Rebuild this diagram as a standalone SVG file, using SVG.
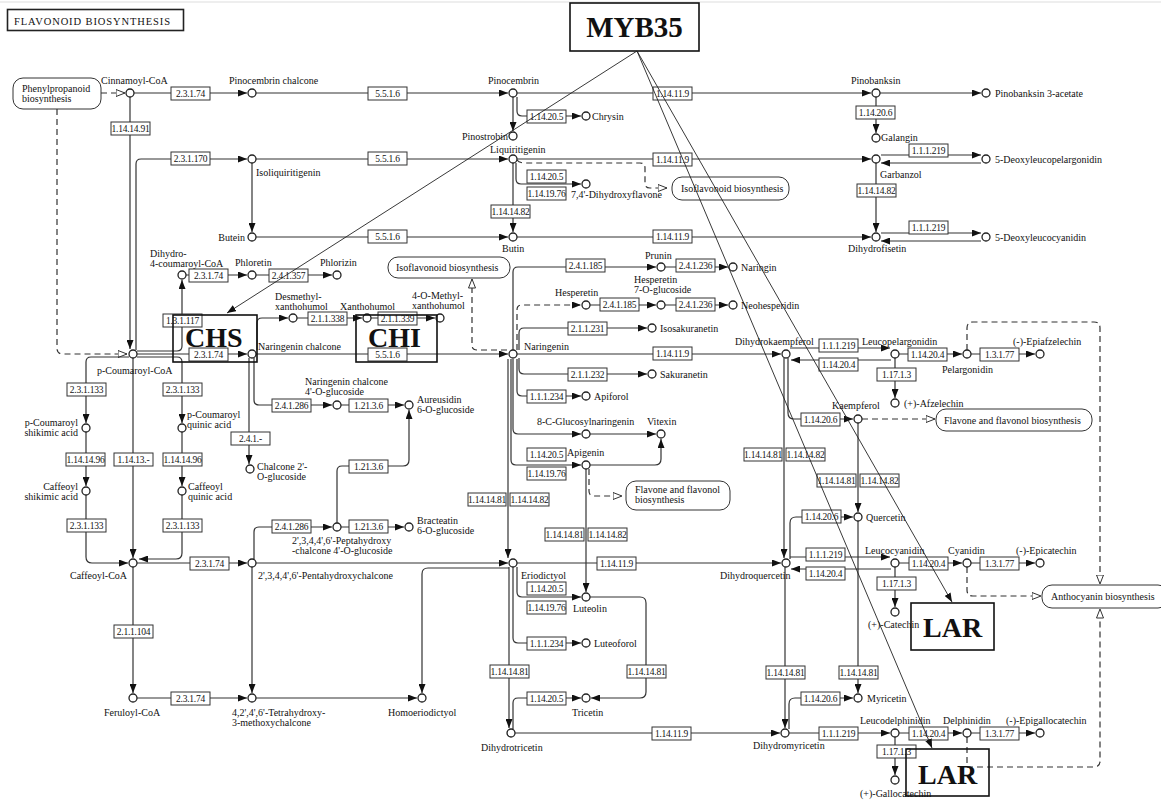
<svg xmlns="http://www.w3.org/2000/svg" width="1161" height="800" viewBox="0 0 1161 800">
<style>
text{font-family:"Liberation Serif","Times New Roman",serif;fill:#111}
.cpd circle{fill:#fff;stroke:#222;stroke-width:1.3}
.cpd text{font-size:10px}
.enz rect{fill:#fff;stroke:#333;stroke-width:1}
.enz text{font-size:9.5px;text-anchor:middle;letter-spacing:-0.25px}
.map rect{fill:#fff;stroke:#333;stroke-width:1}
.map text{font-size:10px}
.gene rect{fill:none;stroke:#111;stroke-width:1.6}
.gene text{font-weight:bold;font-size:28px}
#connectors path{fill:none;stroke:#333;stroke-width:1.2}
#connectors path.d{stroke-dasharray:6,4}
#regulation path{fill:none;stroke:#222;stroke-width:0.9}
</style>
<defs>
<marker id="a" viewBox="0 0 9 7" refX="9" refY="3.5" markerWidth="9" markerHeight="7" markerUnits="userSpaceOnUse" orient="auto"><path d="M0,0 L9,3.5 L0,7 z" fill="#111"/></marker>
<marker id="o" viewBox="0 0 10 8" refX="9.5" refY="4" markerWidth="10" markerHeight="8" markerUnits="userSpaceOnUse" orient="auto"><path d="M0.5,0.5 L9.5,4 L0.5,7.5 z" fill="#fff" stroke="#333" stroke-width="1"/></marker>
</defs>
<rect width="1161" height="800" fill="#fff"/>
<line x1="0" y1="2" x2="1161" y2="2" stroke="#ddd" stroke-width="1"/>
<g id="title"><rect x="7.5" y="9.5" width="176" height="21" fill="#fff" stroke="#222" stroke-width="1.6"/><text x="14" y="25" font-size="10.5" letter-spacing="0.9">FLAVONOID BIOSYNTHESIS</text></g>

<g id="m-phenylpropanoid" class="map"><rect x="13" y="78" width="88" height="31" rx="10"/><text x="22" y="92">Phenylpropanoid<tspan x="22" dy="10">biosynthesis</tspan></text></g>
<g id="m-isoflavonoid-1" class="map"><rect x="672" y="177" width="117" height="23" rx="10"/><text x="681" y="192">Isoflavonoid biosynthesis</text></g>
<g id="m-isoflavonoid-2" class="map"><rect x="388" y="257" width="122" height="21" rx="10"/><text x="396" y="271">Isoflavonoid biosynthesis</text></g>
<g id="m-flavone-1" class="map"><rect x="626" y="481" width="104" height="29" rx="10"/><text x="635" y="493">Flavone and flavonol<tspan x="635" dy="10">biosynthesis</tspan></text></g>
<g id="m-flavone-2" class="map"><rect x="936" y="409" width="156" height="22" rx="10"/><text x="944" y="424">Flavone and flavonol biosynthesis</text></g>
<g id="m-anthocyanin" class="map"><rect x="1042" y="585" width="126" height="23" rx="10"/><text x="1051" y="600">Anthocyanin biosynthesis</text></g>

<g id="connectors">
<path class="d" d="M101,93 H125" marker-end="url(#o)"/>
<path class="d" d="M57,109 V348 Q57,354 63,354 H127" marker-end="url(#o)"/>
<path d="M134,93 H247" marker-end="url(#a)"/>
<path d="M256,93 H508" marker-end="url(#a)"/>
<path d="M517,93 H871" marker-end="url(#a)"/>
<path d="M880,93 H981" marker-end="url(#a)"/>
<path d="M513,97 V131" marker-end="url(#a)"/>
<path d="M517,97 V111 Q517,116 522,116 H581" marker-end="url(#a)"/>
<path d="M876,97 V133" marker-end="url(#a)"/>
<path d="M130,97 V349" marker-end="url(#a)"/>
<path d="M136,350 V164 Q136,159 141,159 H247" marker-end="url(#a)"/>
<path d="M256,159 H508" marker-end="url(#a)"/>
<path d="M517,159 H871" marker-end="url(#a)"/>
<path d="M881,155 H981" marker-end="url(#a)"/>
<path d="M981,163 H881" marker-end="url(#a)"/>
<path d="M876,163 V232" marker-end="url(#a)"/>
<path d="M516,163 V179 Q516,184 521,184 H581" marker-end="url(#a)"/>
<path d="M513,163 V232" marker-end="url(#a)"/>
<path class="d" d="M517,160 Q519,163 525,163 H640 Q645,163 645,168 V183 Q645,188 650,188 H667" marker-end="url(#o)"/>
<path d="M252,163 V232" marker-end="url(#a)"/>
<path d="M256,237 H508" marker-end="url(#a)"/>
<path d="M517,237 H871" marker-end="url(#a)"/>
<path d="M881,233 H981" marker-end="url(#a)"/>
<path d="M981,241 H881" marker-end="url(#a)"/>
<path d="M186,275 H247" marker-end="url(#a)"/>
<path d="M256,275 H332" marker-end="url(#a)"/>
<path d="M137,351 H177 Q182,351 182,346 V280" marker-end="url(#a)"/>
<path d="M137,354 H247" marker-end="url(#a)"/>
<path d="M256,354 H508" marker-end="url(#a)"/>
<path d="M257,350 V323 Q257,318 262,318 H288" marker-end="url(#a)"/>
<path d="M297,318 H362" marker-end="url(#a)"/>
<path d="M371,318 H435" marker-end="url(#a)"/>
<path d="M129,357 H91 Q86,357 86,362 V423" marker-end="url(#a)"/>
<path d="M137,357 H177 Q182,357 182,362 V423" marker-end="url(#a)"/>
<path d="M86,432 V486" marker-end="url(#a)"/>
<path d="M182,432 V486" marker-end="url(#a)"/>
<path d="M86,495 V557 Q86,563 92,563 H128" marker-end="url(#a)"/>
<path d="M182,495 V553 Q182,559 176,559 H139" marker-end="url(#a)"/>
<path d="M133,358 V558" marker-end="url(#a)"/>
<path d="M137,563 H247" marker-end="url(#a)"/>
<path d="M133,567 V693" marker-end="url(#a)"/>
<path d="M137,698 H247" marker-end="url(#a)"/>
<path d="M252,567 V693" marker-end="url(#a)"/>
<path d="M256,698 H417" marker-end="url(#a)"/>
<path d="M256,563 H508" marker-end="url(#a)"/>
<path d="M509,568 H428 Q422,568 422,574 V693" marker-end="url(#a)"/>
<path d="M249,358 V464" marker-end="url(#a)"/>
<path d="M254,358 V400 Q254,405 259,405 H332" marker-end="url(#a)"/>
<path d="M341,405 H404" marker-end="url(#a)"/>
<path d="M254,559 V532 Q254,527 259,527 H332" marker-end="url(#a)"/>
<path d="M341,527 H404" marker-end="url(#a)"/>
<path d="M337,523 V471 Q337,466 342,466 H403 Q409,466 409,460 V410" marker-end="url(#a)"/>
<path d="M513,350 V272 Q513,267 518,267 H656" marker-end="url(#a)"/>
<path d="M665,267 H728" marker-end="url(#a)"/>
<path class="d" d="M517,350 V310 Q517,305 522,305 H581" marker-end="url(#a)"/>
<path d="M590,305 H656" marker-end="url(#a)"/>
<path d="M665,305 H728" marker-end="url(#a)"/>
<path d="M519,350 V333 Q519,328 524,328 H647" marker-end="url(#a)"/>
<path d="M517,354 H781" marker-end="url(#a)"/>
<path d="M519,358 V369 Q519,374 524,374 H647" marker-end="url(#a)"/>
<path class="d" d="M507,350 H477 Q472,350 472,345 V279" marker-end="url(#o)"/>
<path d="M517,359 V391 Q517,396 522,396 H581" marker-end="url(#a)"/>
<path d="M513,359 V429 Q513,434 518,434 H581" marker-end="url(#a)"/>
<path d="M590,434 H656" marker-end="url(#a)"/>
<path d="M511,359 V460 Q511,465 516,465 H581" marker-end="url(#a)"/>
<path d="M590,465 H655 Q661,465 661,459 V439" marker-end="url(#a)"/>
<path class="d" d="M589,469 V491 Q589,496 594,496 H622" marker-end="url(#o)"/>
<path d="M586,469 V592" marker-end="url(#a)"/>
<path d="M508,359 V558" marker-end="url(#a)"/>
<path d="M517,563 H781" marker-end="url(#a)"/>
<path d="M517,567 V592 Q517,597 522,597 H581" marker-end="url(#a)"/>
<path d="M513,567 V638 Q513,643 518,643 H581" marker-end="url(#a)"/>
<path d="M509,567 V728" marker-end="url(#a)"/>
<path d="M590,597 H640 Q646,597 646,603 V692 Q646,698 640,698 H591" marker-end="url(#a)"/>
<path d="M513,729 V703 Q513,698 518,698 H581" marker-end="url(#a)"/>
<path d="M515,733 H780" marker-end="url(#a)"/>
<path d="M790,348 H890" marker-end="url(#a)"/>
<path d="M891,360 H791" marker-end="url(#a)"/>
<path d="M899,354 H962" marker-end="url(#a)"/>
<path d="M971,354 H1035" marker-end="url(#a)"/>
<path class="d" d="M967,350 V328 Q967,322 973,322 H1094 Q1100,322 1100,328 V584" marker-end="url(#o)"/>
<path d="M895,358 V398" marker-end="url(#a)"/>
<path d="M788,358 V413 Q788,419 794,419 H853" marker-end="url(#a)"/>
<path class="d" d="M862,419 H935" marker-end="url(#o)"/>
<path d="M784,358 V558" marker-end="url(#a)"/>
<path d="M858,423 V512" marker-end="url(#a)"/>
<path d="M790,559 V523 Q790,517 796,517 H853" marker-end="url(#a)"/>
<path d="M790,557 H890" marker-end="url(#a)"/>
<path d="M891,569 H791" marker-end="url(#a)"/>
<path d="M899,563 H962" marker-end="url(#a)"/>
<path d="M971,563 H1035" marker-end="url(#a)"/>
<path class="d" d="M967,567 V590 Q967,596 973,596 H1041" marker-end="url(#o)"/>
<path d="M895,567 V607" marker-end="url(#a)"/>
<path d="M785,567 V728" marker-end="url(#a)"/>
<path d="M858,521 V693" marker-end="url(#a)"/>
<path d="M789,729 V704 Q789,698 795,698 H853" marker-end="url(#a)"/>
<path d="M789,733 H890" marker-end="url(#a)"/>
<path d="M899,733 H962" marker-end="url(#a)"/>
<path d="M971,733 H1035" marker-end="url(#a)"/>
<path class="d" d="M967,737 V767 H1094 Q1100,767 1100,761 V609" marker-end="url(#o)"/>
<path d="M895,737 V775" marker-end="url(#a)"/>
</g>

<g class="enz" id="e-2.3.1.74-a"><rect x="171" y="87" width="39" height="13"/><text x="190.5" y="97">2.3.1.74</text></g>
<g class="enz" id="e-1.14.14.91"><rect x="111" y="122" width="39" height="13"/><text x="130.5" y="132">1.14.14.91</text></g>
<g class="enz" id="e-5.5.1.6-a"><rect x="368" y="87" width="39" height="13"/><text x="387.5" y="97">5.5.1.6</text></g>
<g class="enz" id="e-1.14.11.9-a"><rect x="653" y="87" width="39" height="13"/><text x="672.5" y="97">1.14.11.9</text></g>
<g class="enz" id="e-1.14.20.5-a"><rect x="527" y="110" width="39" height="13"/><text x="546.5" y="120">1.14.20.5</text></g>
<g class="enz" id="e-1.14.20.6-a"><rect x="856" y="106" width="39" height="13"/><text x="875.5" y="116">1.14.20.6</text></g>
<g class="enz" id="e-2.3.1.170"><rect x="171" y="152" width="39" height="13"/><text x="190.5" y="162">2.3.1.170</text></g>
<g class="enz" id="e-5.5.1.6-b"><rect x="368" y="152" width="39" height="13"/><text x="387.5" y="162">5.5.1.6</text></g>
<g class="enz" id="e-1.14.11.9-b"><rect x="653" y="153" width="39" height="13"/><text x="672.5" y="163">1.14.11.9</text></g>
<g class="enz" id="e-1.1.1.219-a"><rect x="909" y="144" width="39" height="13"/><text x="928.5" y="154">1.1.1.219</text></g>
<g class="enz" id="e-1.14.20.5-b"><rect x="527" y="170" width="39" height="13"/><text x="546.5" y="180">1.14.20.5</text></g>
<g class="enz" id="e-1.14.19.76-a"><rect x="527" y="187" width="39" height="13"/><text x="546.5" y="197">1.14.19.76</text></g>
<g class="enz" id="e-1.14.14.82-a"><rect x="857" y="184" width="39" height="13"/><text x="876.5" y="194">1.14.14.82</text></g>
<g class="enz" id="e-1.14.14.82-b"><rect x="491" y="205" width="39" height="13"/><text x="510.5" y="215">1.14.14.82</text></g>
<g class="enz" id="e-5.5.1.6-c"><rect x="368" y="230" width="39" height="13"/><text x="387.5" y="240">5.5.1.6</text></g>
<g class="enz" id="e-1.14.11.9-c"><rect x="653" y="230" width="39" height="13"/><text x="672.5" y="240">1.14.11.9</text></g>
<g class="enz" id="e-1.1.1.219-b"><rect x="909" y="221" width="39" height="13"/><text x="928.5" y="231">1.1.1.219</text></g>
<g class="enz" id="e-2.4.1.185-a"><rect x="566" y="259" width="39" height="13"/><text x="585.5" y="269">2.4.1.185</text></g>
<g class="enz" id="e-2.4.1.236-a"><rect x="676" y="259" width="39" height="13"/><text x="695.5" y="269">2.4.1.236</text></g>
<g class="enz" id="e-2.3.1.74-b"><rect x="189" y="269" width="39" height="13"/><text x="208.5" y="279">2.3.1.74</text></g>
<g class="enz" id="e-2.4.1.357"><rect x="269" y="269" width="39" height="13"/><text x="288.5" y="279">2.4.1.357</text></g>
<g class="enz" id="e-2.4.1.185-b"><rect x="600" y="298" width="39" height="13"/><text x="619.5" y="308">2.4.1.185</text></g>
<g class="enz" id="e-2.4.1.236-b"><rect x="676" y="298" width="39" height="13"/><text x="695.5" y="308">2.4.1.236</text></g>
<g class="enz" id="e-1.3.1.117"><rect x="163" y="314" width="39" height="13"/><text x="182.5" y="324">1.3.1.117</text></g>
<g class="enz" id="e-2.1.1.338"><rect x="308" y="312" width="39" height="13"/><text x="327.5" y="322">2.1.1.338</text></g>
<g class="enz" id="e-2.1.1.339"><rect x="378" y="312" width="39" height="13"/><text x="397.5" y="322">2.1.1.339</text></g>
<g class="enz" id="e-2.1.1.231"><rect x="568" y="322" width="39" height="13"/><text x="587.5" y="332">2.1.1.231</text></g>
<g class="enz" id="e-2.3.1.74-c"><rect x="189" y="348" width="39" height="13"/><text x="208.5" y="358">2.3.1.74</text></g>
<g class="enz" id="e-5.5.1.6-d"><rect x="368" y="348" width="39" height="13"/><text x="387.5" y="358">5.5.1.6</text></g>
<g class="enz" id="e-1.14.11.9-d"><rect x="653" y="347" width="39" height="13"/><text x="672.5" y="357">1.14.11.9</text></g>
<g class="enz" id="e-1.1.1.219-c"><rect x="819" y="339" width="39" height="13"/><text x="838.5" y="349">1.1.1.219</text></g>
<g class="enz" id="e-1.14.20.4-a"><rect x="819" y="358" width="39" height="13"/><text x="838.5" y="368">1.14.20.4</text></g>
<g class="enz" id="e-1.14.20.4-b"><rect x="908" y="348" width="39" height="13"/><text x="927.5" y="358">1.14.20.4</text></g>
<g class="enz" id="e-1.3.1.77-a"><rect x="980" y="348" width="39" height="13"/><text x="999.5" y="358">1.3.1.77</text></g>
<g class="enz" id="e-2.1.1.232"><rect x="568" y="368" width="39" height="13"/><text x="587.5" y="378">2.1.1.232</text></g>
<g class="enz" id="e-1.17.1.3-a"><rect x="877" y="368" width="39" height="13"/><text x="896.5" y="378">1.17.1.3</text></g>
<g class="enz" id="e-2.3.1.133-a"><rect x="67" y="383" width="39" height="13"/><text x="86.5" y="393">2.3.1.133</text></g>
<g class="enz" id="e-2.3.1.133-b"><rect x="163" y="383" width="39" height="13"/><text x="182.5" y="393">2.3.1.133</text></g>
<g class="enz" id="e-1.1.1.234-a"><rect x="527" y="390" width="39" height="13"/><text x="546.5" y="400">1.1.1.234</text></g>
<g class="enz" id="e-2.4.1.286-a"><rect x="272" y="399" width="39" height="13"/><text x="291.5" y="409">2.4.1.286</text></g>
<g class="enz" id="e-1.21.3.6-a"><rect x="349" y="399" width="39" height="13"/><text x="368.5" y="409">1.21.3.6</text></g>
<g class="enz" id="e-1.14.20.6-b"><rect x="801" y="413" width="39" height="13"/><text x="820.5" y="423">1.14.20.6</text></g>
<g class="enz" id="e-2.4.1.-"><rect x="231" y="432" width="39" height="13"/><text x="250.5" y="442">2.4.1.-</text></g>
<g class="enz" id="e-1.14.14.81-a"><rect x="744" y="448" width="38" height="13"/><text x="763" y="458">1.14.14.81</text></g>
<g class="enz" id="e-1.14.14.82-c"><rect x="786" y="448" width="39" height="13"/><text x="805.5" y="458">1.14.14.82</text></g>
<g class="enz" id="e-1.14.14.96-a"><rect x="66" y="453" width="39" height="13"/><text x="85.5" y="463">1.14.14.96</text></g>
<g class="enz" id="e-1.14.13.-"><rect x="114" y="453" width="39" height="13"/><text x="133.5" y="463">1.14.13.-</text></g>
<g class="enz" id="e-1.14.14.96-b"><rect x="163" y="453" width="39" height="13"/><text x="182.5" y="463">1.14.14.96</text></g>
<g class="enz" id="e-1.14.20.5-c"><rect x="527" y="448" width="39" height="13"/><text x="546.5" y="458">1.14.20.5</text></g>
<g class="enz" id="e-1.14.19.76-b"><rect x="527" y="467" width="39" height="13"/><text x="546.5" y="477">1.14.19.76</text></g>
<g class="enz" id="e-1.21.3.6-b"><rect x="349" y="460" width="39" height="13"/><text x="368.5" y="470">1.21.3.6</text></g>
<g class="enz" id="e-1.14.14.81-b"><rect x="817" y="474" width="39" height="13"/><text x="836.5" y="484">1.14.14.81</text></g>
<g class="enz" id="e-1.14.14.82-d"><rect x="860" y="474" width="39" height="13"/><text x="879.5" y="484">1.14.14.82</text></g>
<g class="enz" id="e-1.14.14.81-c"><rect x="468" y="493" width="38" height="13"/><text x="487" y="503">1.14.14.81</text></g>
<g class="enz" id="e-1.14.14.82-e"><rect x="510" y="493" width="39" height="13"/><text x="529.5" y="503">1.14.14.82</text></g>
<g class="enz" id="e-1.14.20.6-c"><rect x="802" y="510" width="39" height="13"/><text x="821.5" y="520">1.14.20.6</text></g>
<g class="enz" id="e-2.3.1.133-c"><rect x="67" y="519" width="39" height="13"/><text x="86.5" y="529">2.3.1.133</text></g>
<g class="enz" id="e-2.3.1.133-d"><rect x="163" y="519" width="39" height="13"/><text x="182.5" y="529">2.3.1.133</text></g>
<g class="enz" id="e-2.4.1.286-b"><rect x="272" y="520" width="39" height="13"/><text x="291.5" y="530">2.4.1.286</text></g>
<g class="enz" id="e-1.21.3.6-c"><rect x="349" y="520" width="39" height="13"/><text x="368.5" y="530">1.21.3.6</text></g>
<g class="enz" id="e-1.14.14.81-d"><rect x="545" y="528" width="39" height="13"/><text x="564.5" y="538">1.14.14.81</text></g>
<g class="enz" id="e-1.14.14.82-f"><rect x="588" y="528" width="39" height="13"/><text x="607.5" y="538">1.14.14.82</text></g>
<g class="enz" id="e-1.1.1.219-d"><rect x="806" y="548" width="39" height="13"/><text x="825.5" y="558">1.1.1.219</text></g>
<g class="enz" id="e-1.14.20.4-c"><rect x="806" y="567" width="39" height="13"/><text x="825.5" y="577">1.14.20.4</text></g>
<g class="enz" id="e-2.3.1.74-d"><rect x="190" y="557" width="39" height="13"/><text x="209.5" y="567">2.3.1.74</text></g>
<g class="enz" id="e-1.14.11.9-e"><rect x="597" y="557" width="39" height="13"/><text x="616.5" y="567">1.14.11.9</text></g>
<g class="enz" id="e-1.14.20.4-d"><rect x="909" y="557" width="39" height="13"/><text x="928.5" y="567">1.14.20.4</text></g>
<g class="enz" id="e-1.3.1.77-b"><rect x="980" y="557" width="39" height="13"/><text x="999.5" y="567">1.3.1.77</text></g>
<g class="enz" id="e-1.17.1.3-b"><rect x="877" y="577" width="39" height="13"/><text x="896.5" y="587">1.17.1.3</text></g>
<g class="enz" id="e-1.14.20.5-d"><rect x="527" y="582" width="39" height="13"/><text x="546.5" y="592">1.14.20.5</text></g>
<g class="enz" id="e-1.14.19.76-c"><rect x="527" y="601" width="39" height="13"/><text x="546.5" y="611">1.14.19.76</text></g>
<g class="enz" id="e-2.1.1.104"><rect x="114" y="625" width="39" height="13"/><text x="133.5" y="635">2.1.1.104</text></g>
<g class="enz" id="e-1.1.1.234-b"><rect x="527" y="637" width="39" height="13"/><text x="546.5" y="647">1.1.1.234</text></g>
<g class="enz" id="e-1.14.14.81-e"><rect x="490" y="665" width="39" height="13"/><text x="509.5" y="675">1.14.14.81</text></g>
<g class="enz" id="e-1.14.14.81-f"><rect x="627" y="665" width="39" height="13"/><text x="646.5" y="675">1.14.14.81</text></g>
<g class="enz" id="e-1.14.14.81-g"><rect x="766" y="666" width="39" height="13"/><text x="785.5" y="676">1.14.14.81</text></g>
<g class="enz" id="e-1.14.14.81-h"><rect x="839" y="666" width="39" height="13"/><text x="858.5" y="676">1.14.14.81</text></g>
<g class="enz" id="e-2.3.1.74-e"><rect x="171" y="692" width="39" height="13"/><text x="190.5" y="702">2.3.1.74</text></g>
<g class="enz" id="e-1.14.20.5-e"><rect x="527" y="692" width="39" height="13"/><text x="546.5" y="702">1.14.20.5</text></g>
<g class="enz" id="e-1.14.20.6-d"><rect x="801" y="692" width="39" height="13"/><text x="820.5" y="702">1.14.20.6</text></g>
<g class="enz" id="e-1.1.1.219-e"><rect x="819" y="727" width="39" height="13"/><text x="838.5" y="737">1.1.1.219</text></g>
<g class="enz" id="e-1.14.11.9-f"><rect x="652" y="727" width="39" height="13"/><text x="671.5" y="737">1.14.11.9</text></g>
<g class="enz" id="e-1.14.20.4-e"><rect x="909" y="727" width="39" height="13"/><text x="928.5" y="737">1.14.20.4</text></g>
<g class="enz" id="e-1.3.1.77-c"><rect x="980" y="727" width="39" height="13"/><text x="999.5" y="737">1.3.1.77</text></g>
<g class="enz" id="e-1.17.1.3-c"><rect x="877" y="745" width="39" height="13"/><text x="896.5" y="755">1.17.1.3</text></g>

<g class="cpd" id="c-cinnamoyl-coa"><circle cx="130" cy="93" r="4"/><text x="101" y="84">Cinnamoyl-CoA</text></g>
<g class="cpd" id="c-pinocembrin-chalcone"><circle cx="252" cy="93" r="4"/><text x="229" y="84">Pinocembrin chalcone</text></g>
<g class="cpd" id="c-pinocembrin"><circle cx="513" cy="93" r="4"/><text x="488" y="84">Pinocembrin</text></g>
<g class="cpd" id="c-pinobanksin"><circle cx="876" cy="93" r="4"/><text x="851" y="84">Pinobanksin</text></g>
<g class="cpd" id="c-pinobanksin-3-acetate"><circle cx="986" cy="93" r="4"/><text x="995" y="97">Pinobanksin 3-acetate</text></g>
<g class="cpd" id="c-chrysin"><circle cx="586" cy="116" r="4"/><text x="592" y="120">Chrysin</text></g>
<g class="cpd" id="c-pinostrobin"><circle cx="513" cy="136" r="4"/><text x="508" y="140" text-anchor="end">Pinostrobin</text></g>
<g class="cpd" id="c-galangin"><circle cx="876" cy="138" r="4"/><text x="881" y="141">Galangin</text></g>
<g class="cpd" id="c-isoliquiritigenin"><circle cx="252" cy="159" r="4"/><text x="256" y="176">Isoliquiritigenin</text></g>
<g class="cpd" id="c-liquiritigenin"><circle cx="513" cy="159" r="4"/><text x="490" y="153">Liquiritigenin</text></g>
<g class="cpd" id="c-garbanzol"><circle cx="876" cy="159" r="4"/><text x="880" y="178">Garbanzol</text></g>
<g class="cpd" id="c-5-deoxyleucopelargonidin"><circle cx="986" cy="159" r="4"/><text x="995" y="163">5-Deoxyleucopelargonidin</text></g>
<g class="cpd" id="c-dihydroxyflavone"><circle cx="586" cy="184" r="4"/><text x="571" y="198">7,4'-Dihydroxyflavone</text></g>
<g class="cpd" id="c-butein"><circle cx="252" cy="237" r="4"/><text x="245" y="241" text-anchor="end">Butein</text></g>
<g class="cpd" id="c-butin"><circle cx="513" cy="237" r="4"/><text x="502" y="252">Butin</text></g>
<g class="cpd" id="c-dihydrofisetin"><circle cx="876" cy="237" r="4"/><text x="848" y="252">Dihydrofisetin</text></g>
<g class="cpd" id="c-5-deoxyleucocyanidin"><circle cx="986" cy="237" r="4"/><text x="995" y="241">5-Deoxyleucocyanidin</text></g>
<g class="cpd" id="c-dihydro-4-coumaroyl-coa"><circle cx="182" cy="275" r="4"/><text x="150" y="257">Dihydro-<tspan x="150" dy="9.5">4-coumaroyl-CoA</tspan></text></g>
<g class="cpd" id="c-phloretin"><circle cx="252" cy="275" r="4"/><text x="235" y="266">Phloretin</text></g>
<g class="cpd" id="c-phlorizin"><circle cx="337" cy="275" r="4"/><text x="320" y="266">Phlorizin</text></g>
<g class="cpd" id="c-desmethylxanthohumol"><circle cx="293" cy="318" r="4"/><text x="275" y="300">Desmethyl-<tspan x="275" dy="9.5">xanthohumol</tspan></text></g>
<g class="cpd" id="c-xanthohumol"><circle cx="367" cy="318" r="4"/><text x="340" y="310">Xanthohumol</text></g>
<g class="cpd" id="c-4-o-methylxanthohumol"><circle cx="440" cy="318" r="4"/><text x="412" y="299">4-O-Methyl-<tspan x="412" dy="9.5">xanthohumol</tspan></text></g>
<g class="cpd" id="c-p-coumaroyl-coa"><circle cx="133" cy="354" r="4"/><text x="97" y="374">p-Coumaroyl-CoA</text></g>
<g class="cpd" id="c-naringenin-chalcone"><circle cx="252" cy="354" r="4"/><text x="258" y="350">Naringenin chalcone</text></g>
<g class="cpd" id="c-naringenin"><circle cx="513" cy="354" r="4"/><text x="524" y="350">Naringenin</text></g>
<g class="cpd" id="c-prunin"><circle cx="661" cy="267" r="4"/><text x="645" y="259">Prunin</text></g>
<g class="cpd" id="c-naringin"><circle cx="733" cy="267" r="4"/><text x="741" y="271">Naringin</text></g>
<g class="cpd" id="c-hesperetin"><circle cx="586" cy="305" r="4"/><text x="555" y="296">Hesperetin</text></g>
<g class="cpd" id="c-hesperetin-7-o-glucoside"><circle cx="661" cy="305" r="4"/><text x="634" y="283">Hesperetin<tspan x="634" dy="9.5">7-O-glucoside</tspan></text></g>
<g class="cpd" id="c-neohesperidin"><circle cx="733" cy="305" r="4"/><text x="741" y="309">Neohesperidin</text></g>
<g class="cpd" id="c-isosakuranetin"><circle cx="652" cy="328" r="4"/><text x="660" y="332">Isosakuranetin</text></g>
<g class="cpd" id="c-sakuranetin"><circle cx="652" cy="374" r="4"/><text x="660" y="378">Sakuranetin</text></g>
<g class="cpd" id="c-dihydrokaempferol"><circle cx="786" cy="354" r="4"/><text x="735" y="345">Dihydrokaempferol</text></g>
<g class="cpd" id="c-leucopelargonidin"><circle cx="895" cy="354" r="4"/><text x="862" y="345">Leucopelargonidin</text></g>
<g class="cpd" id="c-pelargonidin"><circle cx="967" cy="354" r="4"/><text x="942" y="373">Pelargonidin</text></g>
<g class="cpd" id="c-epiafzelechin"><circle cx="1040" cy="354" r="4"/><text x="1013" y="345">(-)-Epiafzelechin</text></g>
<g class="cpd" id="c-afzelechin"><circle cx="895" cy="403" r="4"/><text x="904" y="407">(+)-Afzelechin</text></g>
<g class="cpd" id="c-naringenin-chalcone-glucoside"><circle cx="337" cy="405" r="4"/><text x="305" y="385">Naringenin chalcone<tspan x="305" dy="9.5">4'-O-glucoside</tspan></text></g>
<g class="cpd" id="c-aureusidin-glucoside"><circle cx="409" cy="405" r="4"/><text x="417" y="403">Aureusidin<tspan x="417" dy="9.5">6-O-glucoside</tspan></text></g>
<g class="cpd" id="c-p-coumaroyl-shikimic-acid"><circle cx="86" cy="428" r="4"/><text x="78" y="426" text-anchor="end">p-Coumaroyl<tspan x="78" dy="9.5">shikimic acid</tspan></text></g>
<g class="cpd" id="c-p-coumaroyl-quinic-acid"><circle cx="182" cy="428" r="4"/><text x="187" y="418">p-Coumaroyl<tspan x="187" dy="9.5">quinic acid</tspan></text></g>
<g class="cpd" id="c-apiforol"><circle cx="586" cy="396" r="4"/><text x="594" y="400">Apiforol</text></g>
<g class="cpd" id="c-8-c-glucosylnaringenin"><circle cx="586" cy="434" r="4"/><text x="537" y="425">8-C-Glucosylnaringenin</text></g>
<g class="cpd" id="c-vitexin"><circle cx="661" cy="434" r="4"/><text x="647" y="425">Vitexin</text></g>
<g class="cpd" id="c-kaempferol"><circle cx="858" cy="419" r="4"/><text x="832" y="409">Kaempferol</text></g>
<g class="cpd" id="c-apigenin"><circle cx="586" cy="465" r="4"/><text x="567" y="456">Apigenin</text></g>
<g class="cpd" id="c-chalcone-2-o-glucoside"><circle cx="250" cy="469" r="4"/><text x="257" y="470">Chalcone 2'-<tspan x="257" dy="9.5">O-glucoside</tspan></text></g>
<g class="cpd" id="c-caffeoyl-shikimic-acid"><circle cx="86" cy="491" r="4"/><text x="78" y="490" text-anchor="end">Caffeoyl<tspan x="78" dy="9.5">shikimic acid</tspan></text></g>
<g class="cpd" id="c-caffeoyl-quinic-acid"><circle cx="182" cy="491" r="4"/><text x="188" y="490">Caffeoyl<tspan x="188" dy="9.5">quinic acid</tspan></text></g>
<g class="cpd" id="c-quercetin"><circle cx="858" cy="517" r="4"/><text x="866" y="521">Quercetin</text></g>
<g class="cpd" id="c-peptahydroxychalcone-glucoside"><circle cx="337" cy="527" r="4"/><text x="292" y="544">2',3,4,4',6'-Peptahydroxy<tspan x="292" dy="9.5">-chalcone 4'-O-glucoside</tspan></text></g>
<g class="cpd" id="c-bracteatin-glucoside"><circle cx="409" cy="527" r="4"/><text x="417" y="524">Bracteatin<tspan x="417" dy="9.5">6-O-glucoside</tspan></text></g>
<g class="cpd" id="c-caffeoyl-coa"><circle cx="133" cy="563" r="4"/><text x="70" y="579">Caffeoyl-CoA</text></g>
<g class="cpd" id="c-pentahydroxychalcone"><circle cx="252" cy="563" r="4"/><text x="258" y="579">2',3,4,4',6'-Pentahydroxychalcone</text></g>
<g class="cpd" id="c-eriodictyol"><circle cx="513" cy="563" r="4"/><text x="521" y="579">Eriodictyol</text></g>
<g class="cpd" id="c-dihydroquercetin"><circle cx="786" cy="563" r="4"/><text x="720" y="579">Dihydroquercetin</text></g>
<g class="cpd" id="c-leucocyanidin"><circle cx="895" cy="563" r="4"/><text x="865" y="554">Leucocyanidin</text></g>
<g class="cpd" id="c-cyanidin"><circle cx="967" cy="563" r="4"/><text x="948" y="554">Cyanidin</text></g>
<g class="cpd" id="c-epicatechin"><circle cx="1040" cy="563" r="4"/><text x="1016" y="554">(-)-Epicatechin</text></g>
<g class="cpd" id="c-luteolin"><circle cx="586" cy="597" r="4"/><text x="573" y="612">Luteolin</text></g>
<g class="cpd" id="c-catechin"><circle cx="895" cy="612" r="4"/><text x="868" y="628">(+)-Catechin</text></g>
<g class="cpd" id="c-luteoforol"><circle cx="586" cy="643" r="4"/><text x="594" y="647">Luteoforol</text></g>
<g class="cpd" id="c-feruloyl-coa"><circle cx="133" cy="698" r="4"/><text x="104" y="716">Feruloyl-CoA</text></g>
<g class="cpd" id="c-tetrahydroxy-methoxychalcone"><circle cx="252" cy="698" r="4"/><text x="232" y="716">4,2',4',6'-Tetrahydroxy-<tspan x="232" dy="9.5">3-methoxychalcone</tspan></text></g>
<g class="cpd" id="c-homoeriodictyol"><circle cx="422" cy="698" r="4"/><text x="388" y="716">Homoeriodictyol</text></g>
<g class="cpd" id="c-tricetin"><circle cx="586" cy="698" r="4"/><text x="572" y="716">Tricetin</text></g>
<g class="cpd" id="c-myricetin"><circle cx="858" cy="698" r="4"/><text x="867" y="702">Myricetin</text></g>
<g class="cpd" id="c-dihydrotricetin"><circle cx="511" cy="733" r="4"/><text x="481" y="751">Dihydrotricetin</text></g>
<g class="cpd" id="c-dihydromyricetin"><circle cx="785" cy="733" r="4"/><text x="753" y="749">Dihydromyricetin</text></g>
<g class="cpd" id="c-leucodelphinidin"><circle cx="895" cy="733" r="4"/><text x="860" y="724">Leucodelphinidin</text></g>
<g class="cpd" id="c-delphinidin"><circle cx="967" cy="733" r="4"/><text x="943" y="724">Delphinidin</text></g>
<g class="cpd" id="c-epigallocatechin"><circle cx="1040" cy="733" r="4"/><text x="1006" y="724">(-)-Epigallocatechin</text></g>
<g class="cpd" id="c-gallocatechin"><circle cx="895" cy="780" r="4"/><text x="860" y="797">(+)-Gallocatechin</text></g>

<g class="gene" id="g-myb35"><rect x="570" y="3" width="129" height="48" style="fill:#fff"/><text x="634.5" y="37" text-anchor="middle" style="font-size:29px">MYB35</text></g>
<g class="gene" id="g-chs"><rect x="173" y="315" width="84" height="47"/><text x="185" y="347">CHS</text></g>
<g class="gene" id="g-chi"><rect x="356" y="315" width="81" height="47"/><text x="368" y="347">CHI</text></g>
<g class="gene" id="g-lar-1"><rect x="911" y="603" width="83" height="47"/><text x="923" y="637">LAR</text></g>
<g class="gene" id="g-lar-2"><rect x="906" y="749" width="83" height="47"/><text x="918" y="784">LAR</text></g>

<g id="regulation">
<path d="M637,51 L227,313" marker-end="url(#a)"/>
<path d="M637,51 L952,602" marker-end="url(#a)"/>
<path d="M637,51 L932,748" marker-end="url(#a)"/>
</g>
</svg>
